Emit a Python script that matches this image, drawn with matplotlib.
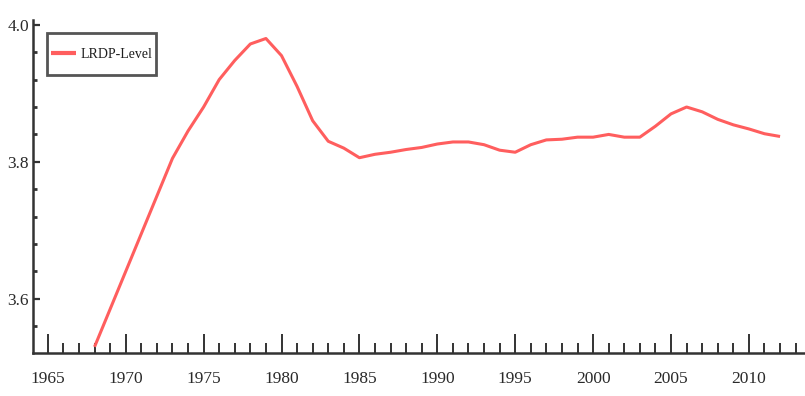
import matplotlib
matplotlib.use("Agg")
import numpy as np
import matplotlib.pyplot as plt
from matplotlib.ticker import MultipleLocator
from matplotlib.legend_handler import HandlerLine2D

years = list(range(1968, 2013))
lrdp_level = [3.530, 3.585, 3.640, 3.695, 3.750, 3.805, 3.845, 3.880, 3.920, 3.948,
              3.972, 3.980, 3.955, 3.910, 3.860, 3.830, 3.820, 3.806, 3.811, 3.814,
              3.818, 3.821, 3.826, 3.829, 3.829, 3.825, 3.817, 3.814, 3.825, 3.832,
              3.833, 3.836, 3.836, 3.840, 3.836, 3.836, 3.852, 3.870, 3.880, 3.873,
              3.862, 3.854, 3.848, 3.841, 3.837]
series_label = "LRDP-Level"
x_ticks = [1965, 1970, 1975, 1980, 1985, 1990, 1995, 2000, 2005, 2010]
y_ticks = [3.6, 3.8, 4.0]


class ShiftedLineHandler(HandlerLine2D):
    """Line handle lowered so it sits at the label's vertical centre."""
    def __init__(self, shift=0.0, **kw):
        super().__init__(**kw)
        self.shift = shift

    def create_artists(self, legend, orig_handle, xdescent, ydescent, width,
                       height, fontsize, trans):
        arts = super().create_artists(legend, orig_handle, xdescent, ydescent,
                                      width, height, fontsize, trans)
        for a in arts:
            a.set_ydata(np.asarray(a.get_ydata(), dtype=float) - self.shift)
        return arts


W, H = 805, 396
fig = plt.figure(figsize=(W / 100, H / 100), dpi=100)
ax = fig.add_axes([33 / W, (H - 353) / H, (W - 33) / W, (353 - 20) / H])

line, = ax.plot(years, lrdp_level, color="#ff5e5e", lw=2.2, label=series_label,
                solid_capstyle="butt")

ax.set_xlim(1964.05, 2013.6)
ax.set_ylim(3.521, 4.007)

ax.set_xticks(x_ticks)
ax.set_xticklabels([str(t) for t in x_ticks])
ax.xaxis.set_minor_locator(MultipleLocator(1))
ax.set_yticks(y_ticks)
ax.set_yticklabels(["3.6", "3.8", "4.0"])
ax.yaxis.set_minor_locator(MultipleLocator(0.04))

for s in ("top", "right"):
    ax.spines[s].set_visible(False)
for s in ("left", "bottom"):
    ax.spines[s].set_color("#333333")
    ax.spines[s].set_linewidth(1.8)

font = "Liberation Serif"
ax.tick_params(axis="x", which="major", direction="in", length=14, width=1.4,
               color="#333333", pad=13, labelsize=12.5, labelcolor="#2a2a2a")
ax.tick_params(axis="x", which="minor", direction="in", length=7, width=1.4,
               color="#333333")
ax.tick_params(axis="y", which="major", direction="in", length=5, width=1.6,
               color="#333333", pad=3, labelsize=12.5, labelcolor="#2a2a2a")
ax.tick_params(axis="y", which="minor", direction="in", length=3, width=2.0,
               color="#333333")
for lab in ax.get_xticklabels() + ax.get_yticklabels():
    lab.set_fontfamily(font)

leg = ax.legend(handler_map={line: ShiftedLineHandler(shift=3.8)},
                loc="upper left", bbox_to_anchor=((47 - 33) / (W - 33), (353 - 33) / 333),
                borderaxespad=0, frameon=True, fancybox=False, edgecolor="#2a2a2a",
                handlelength=1.8, handleheight=3.3,
                prop={"family": font, "size": 10},
                borderpad=0.3, handletextpad=0.3)
leg.get_frame().set_linewidth(2.0)
for t in leg.get_texts():
    t.set_color("#1e1e1e")
for h in leg.get_lines():
    h.set_linewidth(3.0)

fig.savefig("out.png", dpi=100)
